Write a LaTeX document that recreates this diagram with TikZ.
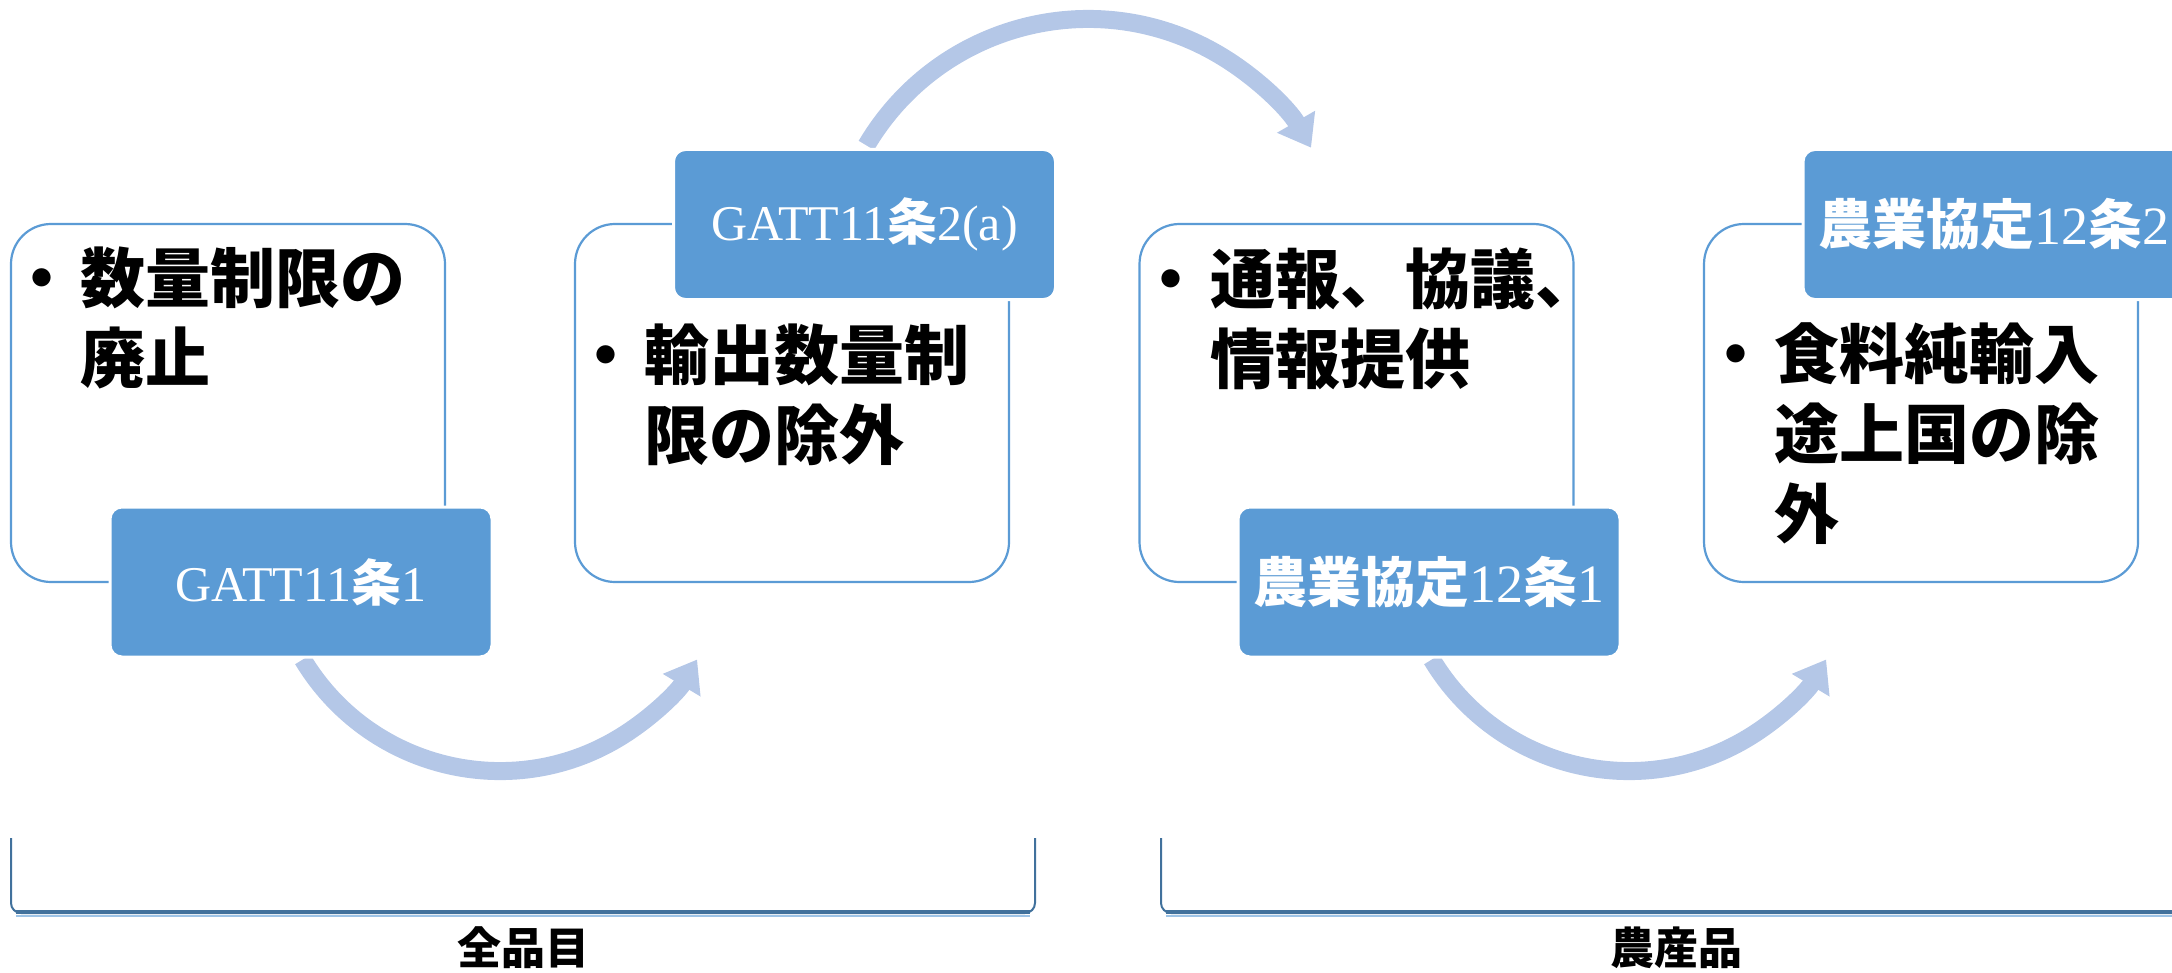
\documentclass[tikz,border=0pt]{standalone}
\usepackage{fontspec}
\setmainfont{Liberation Serif}
\newfontfamily\jp{Noto Sans CJK JP}
\usetikzlibrary{arrows.meta}
\definecolor{accent}{HTML}{5B9BD5}
\definecolor{arrowc}{HTML}{B4C7E7}
\definecolor{brk}{HTML}{41719C}
\definecolor{brkshadow}{HTML}{9DC3E6}
\begin{document}
\begin{tikzpicture}[x=0.5pt,y=0.5pt,
 outbox/.style={draw=accent,line width=1.1pt,rounded corners=20pt,minimum width=217pt,minimum height=179pt,inner sep=0pt,fill=white},
 tagbox/.style={draw=white,line width=1.5pt,fill=accent,rounded corners=6pt,minimum width=191pt,minimum height=75pt,inner sep=0pt,text=white},
 bodytxt/.style={anchor=base west,inner sep=0pt,font=\jp\bfseries\fontsize{32.5pt}{40pt}\selectfont},
 bul/.style={anchor=base,inner sep=0pt,font=\jp\bfseries\fontsize{32.5pt}{40pt}\selectfont},
 flow/.style={draw=arrowc,line width=9pt,-{Triangle[width=21pt,length=15pt]}},
 bracket/.style={draw=brk,line width=1pt,rounded corners=5pt},
 brkbase/.style={draw=brk,line width=2.2pt},
 brkshade/.style={draw=brkshadow,line width=1pt},
 grp/.style={font=\jp\bfseries\fontsize{22pt}{24pt}\selectfont,inner sep=0pt},
 tagA/.style={font=\fontsize{25pt}{28pt}\selectfont},
 tagB/.style={font=\fontsize{27pt}{30pt}\selectfont}
]
\useasboundingbox (0,0) rectangle (2172,-973);

% arrows
\draw[flow] (302.8,-659.5) arc[start angle=211,end angle=329,radius=230];
\draw[flow] (866.4,-145.4) arc[start angle=149.4,end angle=30,radius=257.5];
\draw[flow] (1431.8,-659.5) arc[start angle=211,end angle=329,radius=230];

% outline boxes
\node[outbox] (b1) at (228,-403) {};
\node[outbox] (b2) at (792,-403) {};
\node[outbox] (b3) at (1356.5,-403) {};
\node[outbox] (b4) at (1921,-403) {};

% tag boxes
\node[tagbox,tagA] (t1) at (301,-582) {GATT11{\jp\bfseries 条}1};
\node[tagbox,tagA] (t2) at (864.5,-224.5) {GATT11{\jp\bfseries 条}2(a)};
\node[tagbox,tagB] (t3) at (1429,-582) {{\jp\bfseries 農業協定}12{\jp\bfseries 条}1};
\node[tagbox,tagB] (t4) at (1994,-224.5) {{\jp\bfseries 農業協定}12{\jp\bfseries 条}2};

% box 1 text
\node[bul] (p1) at (42,-302) {・};
\node[bodytxt] (l11) at (80,-302) {数量制限の};
\node[bodytxt] (l12) at (80,-382) {廃止};
% box 2 text
\node[bul] (p2) at (606,-379) {・};
\node[bodytxt] (l21) at (644,-379) {輸出数量制};
\node[bodytxt] (l22) at (644,-459) {限の除外};
% box 3 text
\node[bul] (p3) at (1171,-303) {・};
\node[bodytxt] (l31) at (1210,-303) {通報、協議、};
\node[bodytxt] (l32) at (1210,-383) {情報提供};
% box 4 text
\node[bul] (p4) at (1736,-378) {・};
\node[bodytxt] (l41) at (1774,-378) {食料純輸入};
\node[bodytxt] (l42) at (1774,-458) {途上国の除};
\node[bodytxt] (l43) at (1774,-538) {外};

% brackets
\coordinate (k1a) at (11,-838);
\coordinate (k1b) at (1035,-838);
\coordinate (k2a) at (1161,-838);
\coordinate (k2b) at (2190,-838);
\draw[bracket] (k1a) -- (11,-913) -- (1035,-913) -- (k1b);
\draw[brkshade] (16,-916) -- (1030,-916);
\draw[brkbase] (16,-912) -- (1030,-912);
\draw[bracket] (k2a) -- (1161,-913) -- (2190,-913);
\draw[brkshade] (1166,-916) -- (k2b |- 0,-916);
\draw[brkbase] (1166,-912) -- (k2b |- 0,-912);
\node[grp] (g1) at (523,-948) {全品目};
\node[grp] (g2) at (1676,-948) {農産品};
\end{tikzpicture}
\end{document}
